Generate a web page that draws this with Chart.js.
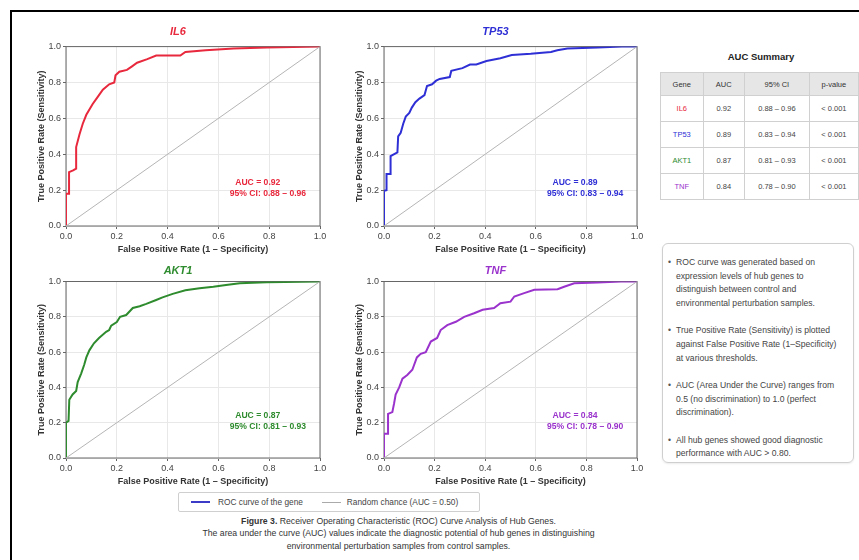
<!DOCTYPE html>
<html>
<head>
<meta charset="utf-8">
<script src="https://cdn.jsdelivr.net/npm/chart.js@4.4.1/dist/chart.umd.min.js"></script>
<style>
  html, body { margin: 0; padding: 0; background: #fff; overflow: hidden; }
  body { width: 859px; height: 560px; position: relative; font-family: "Liberation Sans", Arial, sans-serif; color: #333; }
  .frame { position: absolute; left: 10px; top: 10px; width: 900px; height: 600px; border: 2px solid #000; }
  canvas { position: absolute; }
  #sumTitle { position: absolute; left: 660px; width: 202px; top: 51px; text-align: center; font-weight: bold; font-size: 9.5px; color: #222; }
  #aucTable { position: absolute; left: 660px; top: 72px; border-collapse: collapse; font-size: 7.5px; color: #444; }
  #aucTable th, #aucTable td { border: 1px solid #d0d0d0; text-align: center; padding: 0; }
  #aucTable th { background: #e6e6e6; height: 22px; font-weight: normal; color: #333; }
  #aucTable td { height: 25px; }
  .notes { position: absolute; left: 662px; top: 243px; width: 190px; height: 218px; border: 1px solid #cfcfcf; border-radius: 6px; box-shadow: 0 1px 2px rgba(0,0,0,0.08); font-size: 8.6px; line-height: 13.7px; color: #444; }
  .notes ul { margin: 0; padding: 12px 0 0 0; list-style: none; }
  .notes li { position: relative; padding-left: 13px; margin-bottom: 13.5px; white-space: nowrap; }
  .notes li:before { content: "\2022"; position: absolute; left: 5px; top: 0; color: #555; }
  .legend { position: absolute; left: 178px; top: 492px; width: 300px; height: 18px; border: 1px solid #cfcfcf; border-radius: 2px; font-size: 8.3px; color: #444; display: flex; align-items: center; }
  .legend .ln { display: inline-block; width: 19px; margin-right: 8px; }
  .caption { position: absolute; left: 0; width: 797px; top: 515px; text-align: center; font-size: 8.7px; line-height: 12.4px; color: #333; }
</style>
</head>
<body>
<div class="frame"></div>

<canvas id="c0" width="300" height="239" style="left:30px;top:21px"></canvas>
<canvas id="c1" width="299" height="239" style="left:348px;top:21px"></canvas>
<canvas id="c2" width="300" height="232" style="left:30px;top:260px"></canvas>
<canvas id="c3" width="299" height="232" style="left:348px;top:260px"></canvas>

<div id="sumTitle">AUC Summary</div>
<table id="aucTable"></table>

<div class="notes">
  <ul>
    <li>ROC curve was generated based on<br>expression levels of hub genes to<br>distinguish between control and<br>environmental perturbation samples.</li>
    <li>True Positive Rate (Sensitivity) is plotted<br>against False Positive Rate (1–Specificity)<br>at various thresholds.</li>
    <li>AUC (Area Under the Curve) ranges from<br>0.5 (no discrimination) to 1.0 (perfect<br>discrimination).</li>
    <li>All hub genes showed good diagnostic<br>performance with AUC &gt; 0.80.</li>
  </ul>
</div>

<div class="legend">
  <span class="ln" style="margin-left:12px;border-top:2px solid #3b3bc8"></span>ROC curve of the gene
  <span class="ln" style="margin-left:19px;margin-right:6px;border-top:1px solid #aaa"></span>Random chance (AUC = 0.50)
</div>

<div class="caption">
  <b>Figure 3.</b> Receiver Operating Characteristic (ROC) Curve Analysis of Hub Genes.<br>
  The area under the curve (AUC) values indicate the diagnostic potential of hub genes in distinguishing<br>
  environmental perturbation samples from control samples.
</div>

<script>
// Data
var genes = ["IL6", "TP53", "AKT1", "TNF"];
var aucValues = [0.92, 0.89, 0.87, 0.84];
var ciLow = [0.88, 0.83, 0.81, 0.78];
var ciHigh = [0.96, 0.94, 0.93, 0.90];
var pValues = ["< 0.001", "< 0.001", "< 0.001", "< 0.001"];
var axisTicks = [0.0, 0.2, 0.4, 0.6, 0.8, 1.0];
var chanceLine = [0, 1];

// ROC curves (false positive rate / true positive rate)
var il6Fpr = [0, 0, 0.012, 0.012, 0.028, 0.04, 0.04, 0.053, 0.066, 0.08, 0.105, 0.125, 0.145, 0.17, 0.19, 0.195, 0.21, 0.24, 0.26, 0.28, 0.32, 0.355, 0.45, 0.47, 0.55, 0.66, 0.79, 1];
var il6Tpr = [0, 0.18, 0.18, 0.30, 0.31, 0.32, 0.44, 0.51, 0.57, 0.62, 0.68, 0.72, 0.76, 0.79, 0.80, 0.84, 0.86, 0.87, 0.89, 0.91, 0.93, 0.95, 0.95, 0.97, 0.98, 0.99, 0.995, 1];

var tp53Fpr = [0, 0, 0.01, 0.01, 0.026, 0.026, 0.053, 0.056, 0.066, 0.076, 0.086, 0.1, 0.11, 0.124, 0.14, 0.16, 0.17, 0.19, 0.206, 0.22, 0.26, 0.266, 0.31, 0.34, 0.365, 0.405, 0.46, 0.505, 0.58, 0.66, 0.685, 0.725, 0.845, 0.94, 1];
var tp53Tpr = [0, 0.196, 0.2, 0.29, 0.29, 0.39, 0.41, 0.50, 0.52, 0.57, 0.61, 0.63, 0.66, 0.69, 0.71, 0.73, 0.78, 0.79, 0.81, 0.82, 0.83, 0.865, 0.88, 0.90, 0.90, 0.92, 0.935, 0.953, 0.96, 0.97, 0.98, 0.99, 0.995, 1, 1];

var akt1Fpr = [0, 0, 0.01, 0.013, 0.026, 0.04, 0.046, 0.06, 0.072, 0.08, 0.092, 0.11, 0.13, 0.158, 0.17, 0.178, 0.2, 0.213, 0.237, 0.263, 0.29, 0.316, 0.355, 0.38, 0.42, 0.47, 0.526, 0.58, 0.63, 0.684, 0.79, 1];
var akt1Tpr = [0, 0.20, 0.21, 0.33, 0.36, 0.38, 0.43, 0.48, 0.53, 0.57, 0.61, 0.65, 0.68, 0.715, 0.725, 0.75, 0.77, 0.80, 0.81, 0.85, 0.86, 0.873, 0.895, 0.91, 0.93, 0.95, 0.962, 0.97, 0.98, 0.99, 0.996, 1];

var tnfFpr = [0, 0, 0.016, 0.016, 0.033, 0.04, 0.046, 0.06, 0.073, 0.092, 0.112, 0.13, 0.145, 0.165, 0.185, 0.21, 0.224, 0.25, 0.284, 0.317, 0.356, 0.39, 0.435, 0.46, 0.5, 0.515, 0.554, 0.594, 0.686, 0.712, 0.752, 0.844, 0.937, 1];
var tnfTpr = [0, 0.137, 0.137, 0.25, 0.26, 0.31, 0.36, 0.40, 0.45, 0.47, 0.50, 0.57, 0.59, 0.60, 0.66, 0.68, 0.725, 0.753, 0.772, 0.80, 0.82, 0.84, 0.85, 0.877, 0.886, 0.915, 0.934, 0.953, 0.956, 0.97, 0.99, 0.994, 1, 1];

var curveFpr = [il6Fpr, tp53Fpr, akt1Fpr, tnfFpr];
var curveTpr = [il6Tpr, tp53Tpr, akt1Tpr, tnfTpr];

// Styles
var geneColors = ["#e8283c", "#2f2fd6", "#2e8b2e", "#9a32cc"];
var FONT = "'Liberation Sans', Arial, sans-serif";
Chart.defaults.font.family = FONT;
Chart.defaults.animation = false;

// frame round the plot area
var framePlugin = {
    id: 'frame',
    beforeDatasetsDraw: function(chart) {
        var a = chart.chartArea, ctx = chart.ctx;
        ctx.save();
        ctx.strokeStyle = '#666';
        ctx.lineWidth = 1;
        ctx.strokeRect(a.left, a.top, a.right - a.left, a.bottom - a.top);
        ctx.restore();
    }
};

// AUC text inside the plot
var aucNote = {
    id: 'aucNote',
    afterDatasetsDraw: function(chart, args, opts) {
        var ctx = chart.ctx, xs = chart.scales.x, ys = chart.scales.y;
        ctx.save();
        ctx.fillStyle = opts.color;
        ctx.font = "bold 8.6px " + FONT;
        ctx.textAlign = 'center';
        ctx.textBaseline = 'middle';
        ctx.fillText(opts.line1, xs.getPixelForValue(0.755), ys.getPixelForValue(0.24));
        ctx.fillText(opts.line2, xs.getPixelForValue(0.795), ys.getPixelForValue(0.18));
        ctx.restore();
    }
};

function makePanel(i) {
    var topRow = i < 2;
    var pts = curveFpr[i].map(function(x, k) { return {x: x, y: curveTpr[i][k]}; });
    var ctx = document.getElementById("c" + i).getContext('2d');
    return new Chart(ctx, {
        type: 'line',
        data: {
            datasets: [{
                data: chanceLine.map(function(v) { return {x: v, y: v}; }),
                borderColor: '#b5b5b5',
                borderWidth: 1,
                pointRadius: 0
            }, {
                data: pts,
                borderColor: geneColors[i],
                borderWidth: 2,
                pointRadius: 0,
                tension: 0
            }]
        },
        options: {
            responsive: false,
            layout: { padding: { left: 6, right: 10, top: 4, bottom: 4 } },
            plugins: {
                legend: { display: false },
                tooltip: { enabled: false },
                title: {
                    display: true,
                    text: genes[i],
                    color: geneColors[i],
                    font: { size: 11, weight: 'bold', style: 'italic' },
                    padding: { top: 0, bottom: topRow ? 8.4 : 4.3 }
                },
                aucNote: {
                    color: geneColors[i],
                    line1: "AUC = " + aucValues[i].toFixed(2),
                    line2: "95% CI: " + ciLow[i].toFixed(2) + " – " + ciHigh[i].toFixed(2)
                }
            },
            scales: {
                x: {
                    type: 'linear', min: 0, max: 1,
                    afterBuildTicks: function(s) { s.ticks = axisTicks.map(function(v) { return {value: v}; }); },
                    afterFit: function(s) { s.height = 30; },
                    ticks: { color: '#444', font: { size: 9 }, padding: 2, maxRotation: 0,
                             callback: function(v) { return v.toFixed(1); } },
                    grid: { color: '#e8e8e8', tickColor: '#666', tickLength: 3 },
                    border: { display: false },
                    title: { display: true, text: 'False Positive Rate (1 – Specificity)', color: '#333',
                             font: { size: 9, weight: 'bold' }, padding: { top: 0, bottom: 1 } }
                },
                y: {
                    type: 'linear', min: 0, max: 1,
                    afterBuildTicks: function(s) { s.ticks = axisTicks.map(function(v) { return {value: v}; }); },
                    afterFit: function(s) { s.width = 30; },
                    ticks: { color: '#444', font: { size: 9 }, padding: 2,
                             callback: function(v) { return v.toFixed(1); } },
                    grid: { color: '#e8e8e8', tickColor: '#666', tickLength: 3 },
                    border: { display: false },
                    title: { display: true, text: 'True Positive Rate (Sensitivity)', color: '#333',
                             font: { size: 9, weight: 'bold' }, padding: { top: 0, bottom: 0 } }
                }
            }
        },
        plugins: [framePlugin, aucNote]
    });
}

for (var i = 0; i < genes.length; i++) makePanel(i);

// AUC summary table
var html = '<tr><th style="width:43px">Gene</th><th style="width:42px">AUC</th><th style="width:67px">95% CI</th><th style="width:50px">p-value</th></tr>';
for (var g = 0; g < genes.length; g++) {
    html += '<tr><td style="color:' + geneColors[g] + '">' + genes[g] + '</td><td>' + aucValues[g].toFixed(2) +
        '</td><td>' + ciLow[g].toFixed(2) + ' – ' + ciHigh[g].toFixed(2) + '</td><td>' + pValues[g].replace('<', '&lt;') + '</td></tr>';
}
document.getElementById("aucTable").innerHTML = html;
</script>
</body>
</html>
